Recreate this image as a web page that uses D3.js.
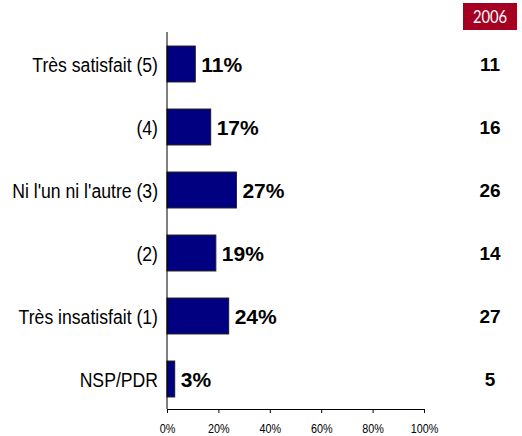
<!DOCTYPE html>
<html>
<head>
<meta charset="utf-8">
<script src="https://cdn.jsdelivr.net/npm/d3@7"></script>
<style>
  html, body { margin: 0; padding: 0; background: #fff; }
  svg { display: block; }
</style>
</head>
<body>
<svg id="chart" width="522" height="436"></svg>
<script>
// Response categories, top to bottom
const categories = [
  "Très satisfait (5)",
  "(4)",
  "Ni l'un ni l'autre (3)",
  "(2)",
  "Très insatisfait (1)",
  "NSP/PDR"
];
// Current percentages
const values = [11, 17, 27, 19, 24, 3];
// Comparison column
const compareYear = "2006";
const compareValues = [11, 16, 26, 14, 27, 5];
// Axis ticks
const ticks = [0, 20, 40, 60, 80, 100];

const FONT = "'Liberation Sans', Arial, sans-serif";
const NARROW = 0.84; // condensed look of the label face

const svg = d3.select("#chart");

const x = d3.scaleLinear().domain([0, 100]).range([167, 424]);
const y = d3.scaleBand().domain(categories).range([32.5, 410.5]).paddingInner(0.43).paddingOuter(0.215);
const cy = c => y(c) + y.bandwidth() / 2;

const axisY = 409;

// Bars
svg.append("g").selectAll("rect")
  .data(values)
  .join("rect")
  .attr("x", x(0))
  .attr("y", (d, i) => y(categories[i]))
  .attr("width", d => x(d) - x(0))
  .attr("height", y.bandwidth())
  .attr("fill", "#000080")
  .attr("stroke", "#1a1a1a")
  .attr("stroke-width", 1);

// Value labels
svg.append("g").selectAll("text")
  .data(values)
  .join("text")
  .attr("x", d => x(d) + 6)
  .attr("y", (d, i) => cy(categories[i]))
  .attr("dy", "0.36em")
  .attr("font-family", FONT)
  .attr("font-weight", "bold")
  .attr("font-size", 21)
  .attr("fill", "#000")
  .text(d => d + "%");

// Category labels (condensed)
svg.append("g").selectAll("text")
  .data(categories)
  .join("text")
  .attr("transform", d => `translate(158,${cy(d)}) scale(${NARROW},1)`)
  .attr("dy", "0.36em")
  .attr("text-anchor", "end")
  .attr("font-family", FONT)
  .attr("font-size", 21)
  .attr("fill", "#000")
  .text(d => d);

// Vertical baseline
svg.append("line")
  .attr("x1", x(0)).attr("x2", x(0))
  .attr("y1", 32).attr("y2", axisY)
  .attr("stroke", "#000").attr("stroke-width", 1);

// Bottom axis
const xAxis = d3.axisBottom(x).tickValues(ticks).tickFormat(d => d + "%").tickSize(4).tickSizeOuter(0);
const gx = svg.append("g").attr("transform", `translate(0,${axisY})`).call(xAxis);
gx.select(".domain").attr("stroke", "#000");
gx.selectAll(".tick line").attr("stroke", "#000");
gx.selectAll(".tick text")
  .attr("y", 0)
  .attr("dy", 0)
  .attr("transform", "translate(0,23.5) scale(0.9,1)")
  .attr("font-family", FONT)
  .attr("font-size", 12)
  .attr("fill", "#000");

// Comparison column header
const colX = 490;
svg.append("rect")
  .attr("x", 463).attr("y", 3)
  .attr("width", 54).attr("height", 27)
  .attr("fill", "#a50021");
svg.append("text")
  .attr("transform", "translate(490,16.5) scale(0.82,1)")
  .attr("dy", "0.36em")
  .attr("text-anchor", "middle")
  .attr("font-family", "Lato, 'Open Sans', sans-serif")
  .attr("font-size", 18)
  .attr("fill", "#fff")
  .text(compareYear);

// Comparison column values
svg.append("g").selectAll("text")
  .data(compareValues)
  .join("text")
  .attr("x", colX)
  .attr("y", (d, i) => cy(categories[i]))
  .attr("dy", "0.36em")
  .attr("text-anchor", "middle")
  .attr("font-family", FONT)
  .attr("font-weight", "bold")
  .attr("font-size", 19)
  .attr("fill", "#000")
  .text(d => d);
</script>
</body>
</html>
